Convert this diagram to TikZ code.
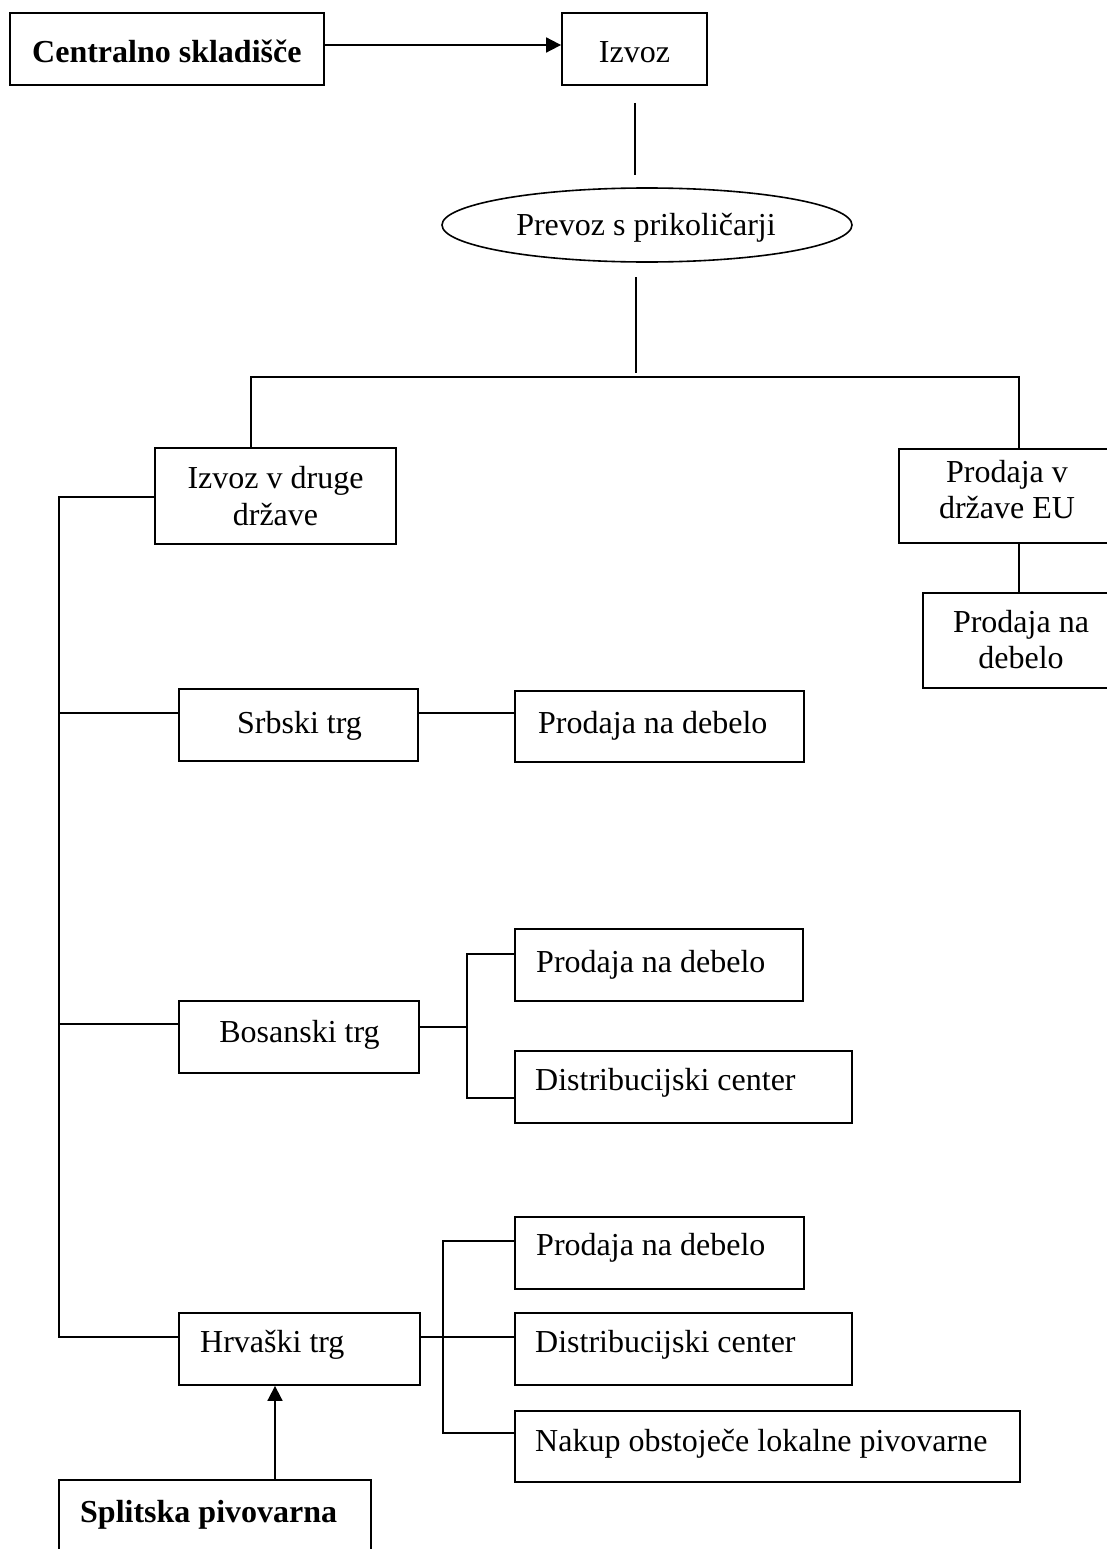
\documentclass[tikz,border=0pt]{standalone}
\usepackage{fontspec}
\setmainfont{Liberation Serif}
\usetikzlibrary{arrows.meta,shapes.geometric}
\begin{document}
\begin{tikzpicture}[x=1pt,y=-1pt,
  box/.style 2 args={draw, rectangle, line width=1.8pt, inner sep=0pt,
    minimum width=#1pt, minimum height=#2pt},
  oval/.style 2 args={draw, ellipse, line width=1.6pt, inner sep=0pt,
    minimum width=#1pt, minimum height=#2pt},
  lbl/.style={inner sep=0pt, font=\fontsize{32}{37}\selectfont},
  lblb/.style={inner sep=0pt, font=\fontsize{32}{37}\selectfont\bfseries},
  link/.style={line width=1.8pt},
  arr/.style={link, -{Triangle[length=15pt,width=15pt]}}]

\useasboundingbox (0,0) rectangle (1107,1549);
\clip (0,0) rectangle (1107,1549);
\fill[white] (0,0) rectangle (1107,1549);

% boxes
\node[box={314}{72}] (central) at (167,49) {};
\node[box={145}{72}] (izvoz) at (634.5,49) {};
\node[oval={410}{74}] (prevoz) at (647,225) {};
\node[box={241}{96}] (drzave) at (275.5,496) {};
\node[box={216}{94}] (eu) at (1007,496) {};
\node[box={196}{95}] (eudeb) at (1021,640.5) {};
\node[box={239}{72}] (srb) at (298.5,725) {};
\node[box={289}{71}] (srbdeb) at (659.5,726.5) {};
\node[box={288}{72}] (bosdeb) at (659,965) {};
\node[box={240}{72}] (bos) at (299,1037) {};
\node[box={337}{72}] (bosdist) at (683.5,1087) {};
\node[box={289}{72}] (hrdeb) at (659.5,1253) {};
\node[box={241}{72}] (hr) at (299.5,1349) {};
\node[box={337}{72}] (hrdist) at (683.5,1349) {};
\node[box={505}{71}] (nakup) at (767.5,1446.5) {};
\node[box={312}{100}] (split) at (215,1530) {};

% labels
\node[lblb, anchor=base west] (central-t) at (32,63) {Centralno skladišče};
\node[lbl, anchor=base] (izvoz-t) at (634.5,63) {Izvoz};
\node[lbl, anchor=base] (prevoz-t) at (646,235) {Prevoz s prikoličarji};
\node[lbl, anchor=base] (drzave-t) at (275.5,488)
  {\begin{tabular}[t]{@{}c@{}}Izvoz v druge\\države\end{tabular}};
\node[lbl, anchor=base] (eu-t) at (1007,482)
  {\fontsize{32}{36}\selectfont\begin{tabular}[t]{@{}c@{}}Prodaja v\\države EU\end{tabular}};
\node[lbl, anchor=base] (eudeb-t) at (1021,632)
  {\fontsize{32}{36}\selectfont\begin{tabular}[t]{@{}c@{}}Prodaja na\\debelo\end{tabular}};
\node[lbl, anchor=base] (srb-t) at (299.5,733) {Srbski trg};
\node[lbl, anchor=base west] (srbdeb-t) at (538,733) {Prodaja na debelo};
\node[lbl, anchor=base west] (bosdeb-t) at (536,972) {Prodaja na debelo};
\node[lbl, anchor=base] (bos-t) at (299.5,1042) {Bosanski trg};
\node[lbl, anchor=base west] (bosdist-t) at (535,1090) {Distribucijski center};
\node[lbl, anchor=base west] (hrdeb-t) at (536,1255) {Prodaja na debelo};
\node[lbl, anchor=base west] (hr-t) at (200,1352) {Hrvaški trg};
\node[lbl, anchor=base west] (hrdist-t) at (535,1352) {Distribucijski center};
\node[lbl, anchor=base west] (nakup-t) at (535,1451) {Nakup obstoječe lokalne pivovarne};
\node[lblb, anchor=base west] (split-t) at (80,1522) {Splitska pivovarna};

% routing points
\coordinate (ay) at (0,45);
\coordinate (izT) at (635,103);
\coordinate (izB) at (635,175);
\coordinate (pvT) at (636,277);
\coordinate (pvB) at (636,373);
\coordinate (busL) at (251,377);
\coordinate (busR) at (1019,377);
\coordinate (tT) at (59,497);
\coordinate (tS) at (59,713);
\coordinate (tB) at (59,1024);
\coordinate (tH) at (59,1337);
\coordinate (bf) at (467,1027);
\coordinate (bfT) at (467,954);
\coordinate (bfB) at (467,1098);
\coordinate (hfT) at (443,1241);
\coordinate (hfB) at (443,1433);
\coordinate (ax) at (275,0);

% connectors
\draw[arr] (central.east |- ay) -- (izvoz.west |- ay);
\draw[link] (izT) -- (izB);
\draw[link] (pvT) -- (pvB);
\draw[link] (drzave.north -| busL) -- (busL) -- (busR) -- (eu.north -| busR);
\draw[link] (eu.south -| busR) -- (eudeb.north -| busR);

\draw[link] (drzave.west |- tT) -- (tT) -- (tH) -- (hr.west |- tH);
\draw[link] (tS) -- (srb.west |- tS);
\draw[link] (tB) -- (bos.west |- tB);
\draw[link] (srb.east |- tS) -- (srbdeb.west |- tS);

\draw[link] (bos.east |- bf) -- (bf);
\draw[link] (bosdeb.west |- bfT) -- (bfT) -- (bfB) -- (bosdist.west |- bfB);

\draw[link] (hr.east |- tH) -- (hrdist.west |- tH);
\draw[link] (hrdeb.west |- hfT) -- (hfT) -- (hfB) -- (nakup.west |- hfB);

\draw[arr] (split.north -| ax) -- (hr.south -| ax);
\end{tikzpicture}
\end{document}
